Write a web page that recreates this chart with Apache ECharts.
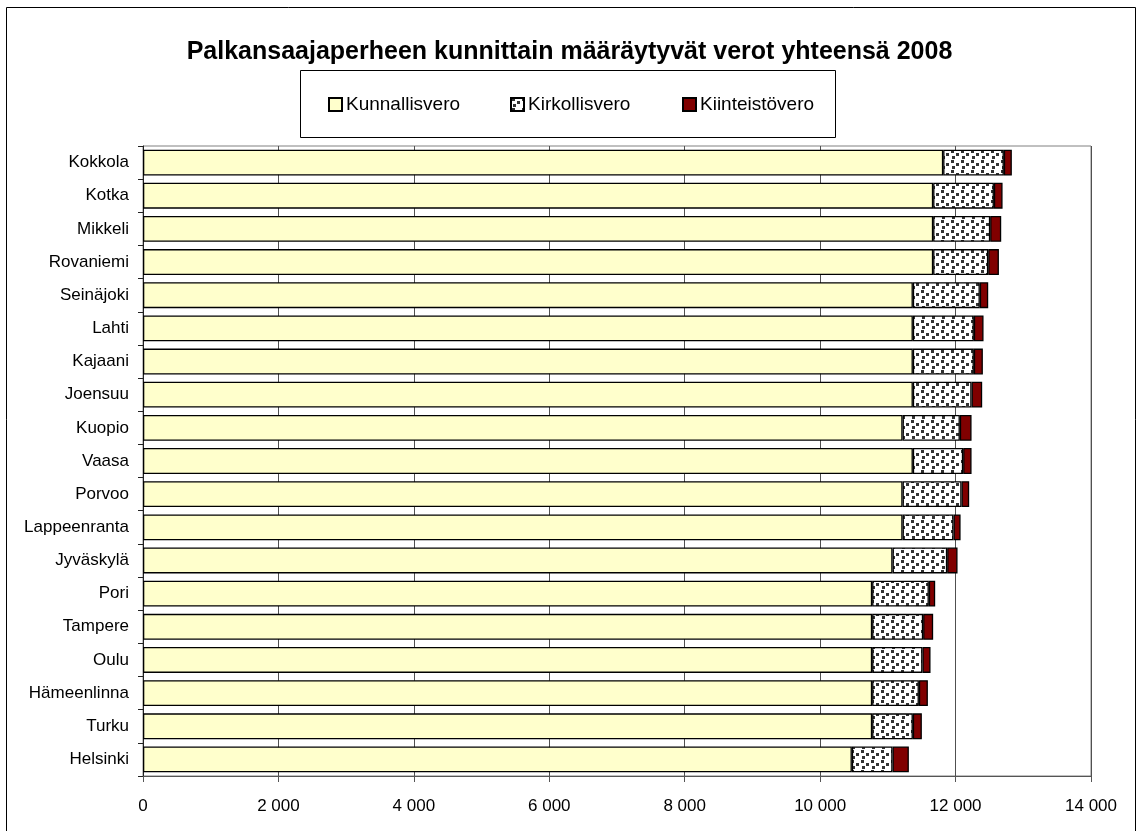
<!DOCTYPE html>
<html>
<head>
<meta charset="utf-8">
<script src="https://cdn.jsdelivr.net/npm/echarts@6/dist/echarts.min.js"></script>
<style>
html,body{margin:0;padding:0;background:#fff;}
#chart{width:1139px;height:831px;}
</style>
</head>
<body>
<div id="chart"></div>
<script>
const titleText = 'Palkansaajaperheen kunnittain määräytyvät verot yhteensä 2008';
const seriesNames = ['Kunnallisvero', 'Kirkollisvero', 'Kiinteistövero'];
const cities = ['Kokkola','Kotka','Mikkeli','Rovaniemi','Seinäjoki','Lahti','Kajaani','Joensuu','Kuopio','Vaasa','Porvoo','Lappeenranta','Jyväskylä','Pori','Tampere','Oulu','Hämeenlinna','Turku','Helsinki'];
const kunnallisvero = [11817,11669,11669,11669,11369,11369,11369,11369,11217,11369,11217,11217,11069,10768,10768,10768,10768,10768,10468];
const kirkollisvero = [896,897,842,813,989,901,901,867,846,743,871,753,807,837,753,743,690,601,601];
const kiinteistovero = [118,128,163,158,124,143,133,157,173,124,113,104,153,94,148,119,133,133,241];
const xTicks = [0,2000,4000,6000,8000,10000,12000,14000];

const FONT = '"Liberation Sans", Arial, sans-serif';

// confetti pattern
const pat = document.createElement('canvas');
pat.width = 10; pat.height = 10;
const pc = pat.getContext('2d');
pc.fillStyle = '#ffffff'; pc.fillRect(0,0,10,10);
pc.fillStyle = '#333333';
[[1,0],[6,3],[2,6]].forEach(p => pc.fillRect(p[0], p[1], 3, 3));

const fmt = v => String(v).replace(/\B(?=(\d{3})+(?!\d))/g, ' ');

const chart = echarts.init(document.getElementById('chart'), null, {renderer:'canvas'});
const colors = ['#FFFFCC', {image: pat, repeat: 'repeat'}, '#800000'];
const datas = [kunnallisvero, kirkollisvero, kiinteistovero];
const legendLefts = [328, 510, 682];

chart.setOption({
  animation: false,
  backgroundColor: '#fff',
  textStyle: {fontFamily: FONT},
  title: {
    text: titleText,
    left: 'center',
    top: 35,
    textStyle: {fontFamily: FONT, fontWeight: 'bold', fontSize: 25, color: '#000'}
  },
  legend: seriesNames.map((n, i) => ({
    data: [n],
    left: legendLefts[i],
    top: 95,
    padding: 0,
    itemWidth: 13,
    itemHeight: 13,
    itemGap: 4,
    icon: 'rect',
    selectedMode: false,
    textStyle: {fontFamily: FONT, fontSize: 19, color: '#000', padding: [0,0,0,-1]}
  })),
  graphic: [
    {type: 'rect', shape: {x: 6.5, y: 7.5, width: 1129, height: 900}, style: {fill: 'none', stroke: '#000', lineWidth: 1}, silent: true},
    {type: 'rect', shape: {x: 300.5, y: 70.5, width: 535, height: 67}, style: {fill: 'none', stroke: '#000', lineWidth: 1}, silent: true, z: -1}
  ],
  grid: {
    left: 143, right: 48, top: 146, bottom: 55,
    show: true, borderColor: '#808080', borderWidth: 1
  },
  xAxis: {
    type: 'value',
    min: xTicks[0], max: xTicks[xTicks.length-1], interval: 2000,
    axisLine: {show: true, lineStyle: {color: '#555', width: 1}},
    axisTick: {show: true, length: 6, lineStyle: {color: '#555'}},
    splitLine: {show: true, lineStyle: {color: '#505050', width: 1}},
    axisLabel: {fontFamily: FONT, fontSize: 17, color: '#000', margin: 22, formatter: fmt}
  },
  yAxis: {
    type: 'category',
    data: cities,
    inverse: true,
    axisLine: {show: true, lineStyle: {color: '#222', width: 1}},
    axisTick: {show: true, length: 5, lineStyle: {color: '#222'}},
    axisLabel: {fontFamily: FONT, fontSize: 17, color: '#000', margin: 14}
  },
  series: seriesNames.map((n, i) => ({
    name: n,
    type: 'bar',
    stack: 'total',
    data: datas[i],
    barCategoryGap: '22%',
    itemStyle: {color: colors[i], borderColor: '#000', borderWidth: 1.3},
    emphasis: {disabled: true}
  }))
});
</script>
</body>
</html>
